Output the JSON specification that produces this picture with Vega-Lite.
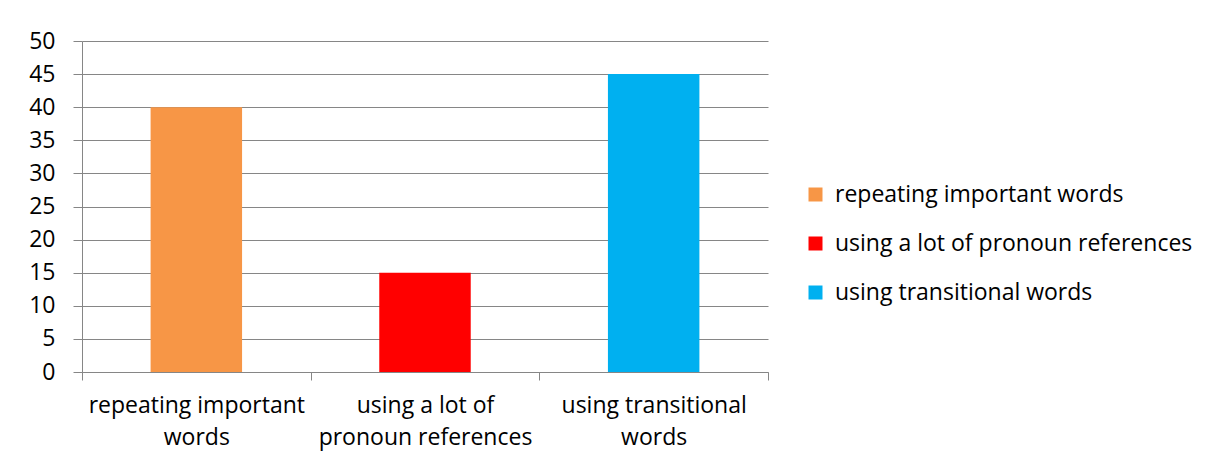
{
  "$schema": "https://vega.github.io/schema/vega-lite/v6.json",
  "autosize": {"type": "none"},
  "padding": {"left": 82, "top": 41, "right": 441, "bottom": 92},
  "width": 686,
  "height": 331,
  "background": "#ffffff",
  "data": {
    "values": [
      {"category": "repeating important words", "value": 40},
      {"category": "using a lot of pronoun references", "value": 15},
      {"category": "using transitional words", "value": 45}
    ]
  },
  "mark": {"type": "bar", "width": {"band": 0.4}},
  "encoding": {
    "x": {
      "field": "category",
      "type": "nominal",
      "sort": null,
      "scale": {"paddingInner": 0, "paddingOuter": 0},
      "axis": {
        "title": null,
        "labelAngle": 0,
        "tickBand": "extent",
        "grid": false,
        "tickSize": 8,
        "labelPadding": 14,
        "labelLimit": 400,
        "labelLineHeight": 32,
        "labelExpr": "datum.value == 'repeating important words' ? ['repeating important', 'words'] : datum.value == 'using a lot of pronoun references' ? ['using a lot of', 'pronoun references'] : datum.value == 'using transitional words' ? ['using transitional', 'words'] : ''"
      }
    },
    "y": {
      "field": "value",
      "type": "quantitative",
      "scale": {"domain": [0, 50], "nice": false},
      "axis": {
        "title": null,
        "values": [0, 5, 10, 15, 20, 25, 30, 35, 40, 45, 50],
        "tickSize": 9,
        "labelPadding": 18,
        "grid": true
      }
    },
    "color": {
      "field": "category",
      "type": "nominal",
      "sort": null,
      "scale": {
        "domain": ["repeating important words", "using a lot of pronoun references", "using transitional words"],
        "range": ["#F79646", "#FF0000", "#00B0F0"]
      },
      "legend": {
        "title": null,
        "orient": "none",
        "legendX": 722,
        "legendY": 142,
        "padding": 0,
        "symbolType": "square",
        "symbolSize": 196,
        "symbolStrokeWidth": 0,
        "labelOffset": 8,
        "rowPadding": 25,
        "labelLimit": 400
      }
    }
  },
  "config": {
    "font": "Open Sans",
    "view": {"stroke": null},
    "axis": {
      "domainColor": "#868686",
      "domainWidth": 1,
      "tickColor": "#868686",
      "gridColor": "#868686",
      "gridWidth": 1,
      "gridOpacity": 1,
      "labelFont": "Open Sans",
      "labelFontSize": 23,
      "labelColor": "#000000"
    },
    "legend": {
      "labelFont": "Open Sans",
      "labelFontSize": 23,
      "labelColor": "#000000"
    }
  }
}
